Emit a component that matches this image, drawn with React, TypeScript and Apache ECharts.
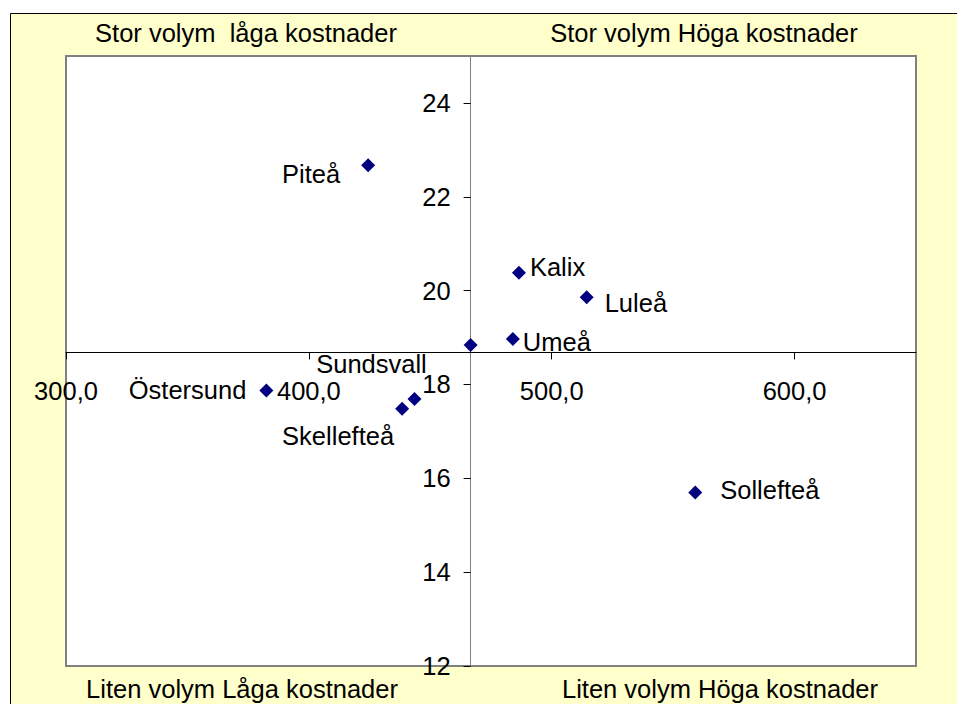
import React, { useEffect, useRef } from "react";
import * as echarts from "echarts";

const cities = ["Piteå", "Kalix", "Luleå", "Umeå", "", "Östersund", "Sundsvall", "Skellefteå", "Sollefteå"];
const volumeX = [424.4, 486.5, 514.4, 484.0, 466.6, 382.5, 443.5, 438.4, 559.1];
const costY = [22.67, 20.38, 19.86, 18.97, 18.84, 17.87, 17.69, 17.48, 15.7];
// index of the point where the axes cross
const crossIndex = 4;

const xMin = 300;
const xMax = 650;
const xStep = 100;
const yMin = 12;
const yMax = 25;
const yStep = 2;

const quadrantTitles = [
  "Stor volym  låga kostnader",
  "Stor volym Höga kostnader",
  "Liten volym Låga kostnader",
  "Liten volym Höga kostnader",
];

// label placement per point (style only)
const labelStyles: any[] = [
  { position: "left", distance: 21, offset: [0, 9] },
  { position: "right", distance: 4, offset: [0, -6] },
  { position: "right", distance: 11, offset: [0, 6] },
  { position: "right", distance: 3, offset: [0, 3] },
  { show: false },
  { position: "left", distance: 13, offset: [0, -1] },
  { position: "inside", offset: [-43, -35] },
  { position: "inside", offset: [-64, 27] },
  { position: "right", distance: 18, offset: [0, -2] },
];

const FONT = "Liberation Sans, Arial, sans-serif";
const FS = 25.5;

export default function App() {
  const ref = useRef<HTMLDivElement>(null);
  useEffect(() => {
    if (!ref.current) return;
    const chart = echarts.init(ref.current, null, { renderer: "svg" });
    const data = cities.map((c, i) => ({
      name: c,
      value: [volumeX[i], costY[i]],
      label: labelStyles[i],
    }));
    const titleStyle = { fontSize: FS, fontFamily: FONT, fill: "#000", textAlign: "center", textVerticalAlign: "middle" };
    chart.setOption({
      animation: false,
      grid: {
        left: 66,
        right: 41,
        top: 56,
        bottom: 38,
        show: true,
        backgroundColor: "#ffffff",
        borderColor: "#808080",
        borderWidth: 2,
      },
      graphic: [
        {
          type: "rect",
          z: -100,
          shape: { x: 10.5, y: 13.5, width: 980, height: 720 },
          style: { fill: "#FFFFCC", stroke: "#000000", lineWidth: 1 },
          silent: true,
        },
        { type: "text", x: 246, y: 33, style: { ...titleStyle, text: quadrantTitles[0] } },
        { type: "text", x: 704, y: 33, style: { ...titleStyle, text: quadrantTitles[1] } },
        { type: "text", x: 242, y: 689, style: { ...titleStyle, text: quadrantTitles[2] } },
        { type: "text", x: 720, y: 689, style: { ...titleStyle, text: quadrantTitles[3] } },
      ],
      xAxis: {
        type: "value",
        min: xMin,
        max: xMax,
        interval: xStep,
        position: "bottom",
        axisLine: { show: true, onZero: false, lineStyle: { color: "#000", width: 1 } },
        axisTick: { show: true, inside: false, length: 7, lineStyle: { color: "#000" } },
        axisLabel: {
          margin: 26,
          fontSize: FS,
          fontFamily: FONT,
          color: "#000",
          showMaxLabel: false,
          formatter: (v: number) => v.toFixed(1).replace(".", ","),
        },
        splitLine: { show: false },
      },
      yAxis: {
        type: "value",
        min: yMin,
        max: yMax,
        interval: yStep,
        position: "left",
        axisLine: { show: true, onZero: false, lineStyle: { color: "#808080", width: 1 } },
        axisTick: { show: true, inside: false, length: 7, lineStyle: { color: "#000" } },
        axisLabel: {
          margin: 20,
          fontSize: FS,
          fontFamily: FONT,
          color: "#000",
          showMaxLabel: false,
          formatter: (v: number) => String(v),
        },
        splitLine: { show: false },
      },
      series: [
        {
          type: "scatter",
          symbol: "diamond",
          symbolSize: 14,
          itemStyle: { color: "#000080", opacity: 1 },
          label: {
            show: true,
            formatter: "{b}",
            fontSize: FS,
            fontFamily: FONT,
            color: "#000",
          },
          data,
        },
      ],
    });
    // place axes so they cross at the crossing point
    const cross = chart.convertToPixel({ gridIndex: 0 }, [volumeX[crossIndex], costY[crossIndex]]) as number[];
    const leftPx = chart.convertToPixel({ xAxisIndex: 0 }, xMin) as number;
    const bottomPx = chart.convertToPixel({ yAxisIndex: 0 }, yMin) as number;
    chart.setOption({
      xAxis: { offset: cross[1] - bottomPx },
      yAxis: { offset: leftPx - cross[0] },
    });
    return () => chart.dispose();
  }, []);
  return (
    <div
      ref={ref}
      style={{ position: "absolute", left: 0, top: 0, width: 957, height: 704, background: "#fff" }}
    />
  );
}
